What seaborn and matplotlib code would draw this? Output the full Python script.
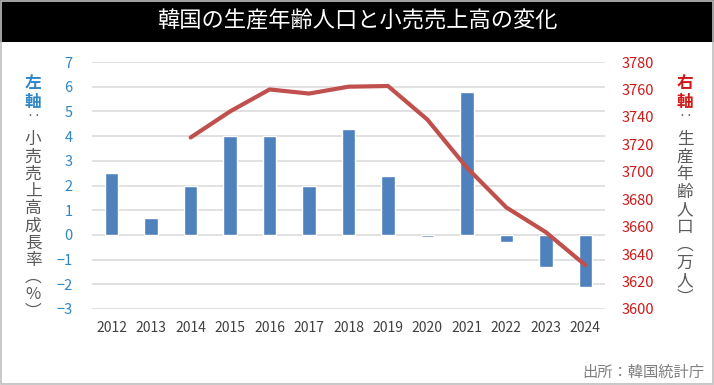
import matplotlib.pyplot as plt
import matplotlib.patches as patches
import seaborn as sns

# 韓国の生産年齢人口と小売売上高の変化
years = [2012, 2013, 2014, 2015, 2016, 2017, 2018, 2019, 2020, 2021, 2022, 2023, 2024]
growth = [2.5, 0.7, 2.0, 4.0, 4.0, 2.0, 4.3, 2.4, -0.1, 5.8, -0.3, -1.3, -2.1]
pop_years = [2014, 2015, 2016, 2017, 2018, 2019, 2020, 2021, 2022, 2023, 2024]
pop = [3725, 3744, 3760, 3757, 3762, 3762.5, 3738, 3703, 3674, 3656, 3632]

left_ticks = list(range(-3, 8))
right_ticks = list(range(3600, 3781, 20))

BLUE = '#4F81BD'
RED = '#C0504D'
TICK_BLUE = '#2E86C8'
TICK_RED = '#D01818'
GRAY = '#595959'

sns.set_theme(style='white')
plt.rcParams['font.family'] = ['Noto Sans CJK JP', 'DejaVu Sans']

fig = plt.figure(figsize=(7.14, 3.85), dpi=100)
fig.patch.set_facecolor('white')

# タイトル帯
fig.patches.append(patches.Rectangle((0, 1 - 42 / 385), 1, 42 / 385, transform=fig.transFigure,
                                     facecolor='black', edgecolor='none', zorder=0))
fig.patches.append(patches.Rectangle((0.001, 0.002), 0.997, 0.996, transform=fig.transFigure,
                                     facecolor='none', edgecolor='#BFBFBF', lw=1.2, zorder=5))
fig.text(0.5, 1 - 21 / 385, '韓国の生産年齢人口と小売売上高の変化', color='white',
         fontsize=16, ha='center', va='center')

ax = fig.add_axes([92 / 714, 1 - 309 / 385, 513 / 714, 247 / 385])
sns.barplot(x=years, y=growth, native_scale=True, width=0.34, color=BLUE,
            saturation=1, ax=ax, zorder=3)
ax.set_xlim(2011.5, 2024.5)
ax.set_ylim(-3, 7)
ax.set_yticks(left_ticks)
ax.set_xticks(years)
ax.set_xticklabels([str(y) for y in years])
ax.grid(axis='y', color='#DCDCDC', lw=1.2, zorder=0)
ax.set_axisbelow(True)
for s in ax.spines.values():
    s.set_visible(False)
ax.tick_params(axis='y', colors=TICK_BLUE, labelsize=10.5, length=0, pad=14)
ax.tick_params(axis='x', colors='#404040', labelsize=10, length=0, pad=9)

ax2 = ax.twinx()
sns.lineplot(x=pop_years, y=pop, color=RED, lw=3, ax=ax2)
ax2.set_ylim(3600, 3780)
ax2.set_yticks(right_ticks)
for s in ax2.spines.values():
    s.set_visible(False)
ax2.tick_params(axis='y', colors=TICK_RED, labelsize=10.5, length=0, pad=12)
ax2.grid(False)

# 縦書きの軸ラベル
fig.text(33 / 714, 1 - 74 / 385, '左\n軸', color=TICK_BLUE, fontsize=12,
         ha='center', va='top', linespacing=1.05, fontweight='bold')
fig.text(33 / 714, 1 - 117 / 385, '‥', color=GRAY, fontsize=10, ha='center', va='center')
fig.text(33 / 714, 1 - 131 / 385, '\n'.join('小売売上高成長率︵%︶'), color=GRAY,
         fontsize=12, ha='center', va='top', linespacing=1.02)

fig.text(685 / 714, 1 - 74 / 385, '右\n軸', color=TICK_RED, fontsize=12,
         ha='center', va='top', linespacing=1.05, fontweight='bold')
fig.text(685 / 714, 1 - 117 / 385, '‥', color=GRAY, fontsize=10, ha='center', va='center')
fig.text(685 / 714, 1 - 131 / 385, '\n'.join('生産年齢人口︵万人︶'), color=GRAY,
         fontsize=12, ha='center', va='top', linespacing=1.05)

fig.text(704 / 714, 1 - 372 / 385, '出所：韓国統計庁', color='#7F7F7F', fontsize=11,
         ha='right', va='center')

fig.savefig('out.png', dpi=100)
